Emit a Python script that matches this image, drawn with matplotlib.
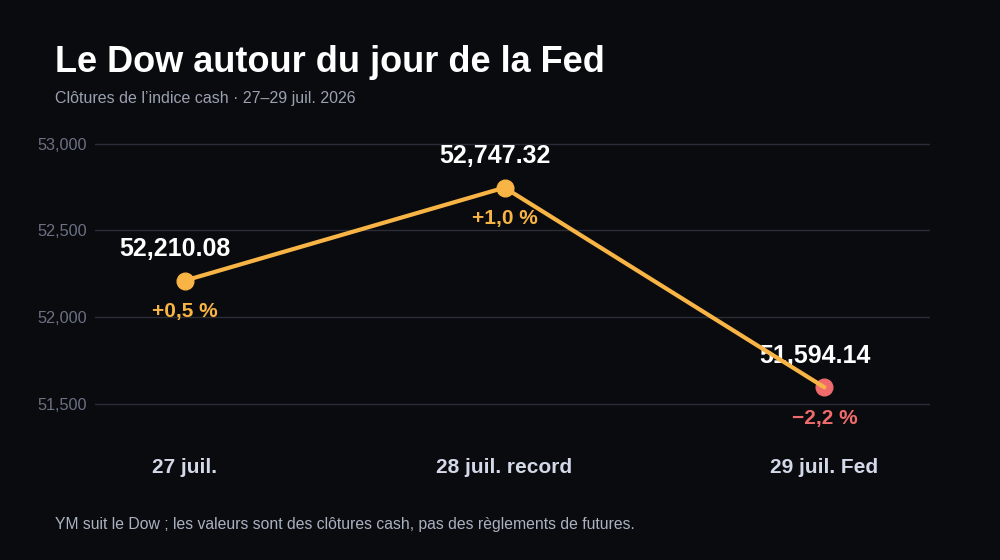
import matplotlib
matplotlib.use("Agg")
import matplotlib.pyplot as plt

plt.rcParams['font.family'] = ['Liberation Sans', 'DejaVu Sans']

# Data
days = ["27 juil.", "28 juil. record", "29 juil. Fed"]
closes = [52210.08, 52747.32, 51594.14]
changes = [0.5, 1.0, -2.2]
yticks = [51500, 52000, 52500, 53000]

bg = '#0a0b0f'
orange = '#f8b444'
red = '#f06b6b'

fig = plt.figure(figsize=(10, 5.6), dpi=100, facecolor=bg)
ax = fig.add_axes([0.095, 1 - 440 / 560, 0.835, 310 / 560], facecolor=bg)

x = list(range(len(days)))
for i, (v, c) in enumerate(zip(closes, changes)):
    col = red if c < 0 else orange
    ax.plot(i, v, 'o', color=col, markersize=12, zorder=3)
    ax.annotate(f"{v:,.2f}", (i, v), xytext=(-7, 22.5), textcoords='offset points',
                ha='center', va='center', color='white', fontsize=18, fontweight='bold', zorder=4)
    sign = '+' if c >= 0 else '\u2212'
    txt = sign + f"{abs(c):.1f}".replace('.', ',') + ' %'
    ax.annotate(txt, (i, v), xytext=(0, -22.5), textcoords='offset points',
                ha='center', va='center', color=col, fontsize=15, fontweight='bold', zorder=4)
# line drawn on top of markers and labels
ax.plot(x, closes, color=orange, linewidth=3, solid_capstyle='round', zorder=5)

ax.set_xlim(-0.28, 2.33)
ax.set_ylim(51290, 53080)
ax.set_yticks(yticks)
ax.set_yticklabels([f"{t:,}" for t in yticks])
ax.set_xticks(x)
ax.set_xticklabels(days)
ax.tick_params(axis='y', length=0, pad=6, labelsize=11.7, labelcolor='#6b7182')
ax.tick_params(axis='x', length=0, pad=13, labelsize=15, labelcolor='#d3d9e8')
for lbl in ax.get_xticklabels():
    lbl.set_fontweight('bold')
for s in ax.spines.values():
    s.set_visible(False)
ax.grid(axis='y', color='#2a2d35', linewidth=1)
ax.set_axisbelow(True)

fig.text(0.055, 1 - 62 / 560, "Le Dow autour du jour de la Fed", color='white',
         fontsize=26, fontweight='bold', va='center')
fig.text(0.055, 1 - 98 / 560, "Clôtures de l\u2019indice cash · 27\u201329 juil. 2026",
         color='#9aa1b0', fontsize=11.5, va='center')
fig.text(0.055, 1 - 524 / 560,
         "YM suit le Dow ; les valeurs sont des clôtures cash, pas des règlements de futures.",
         color='#aab1c0', fontsize=11.3, va='center')

fig.savefig('out.png', dpi=100, facecolor=bg)
